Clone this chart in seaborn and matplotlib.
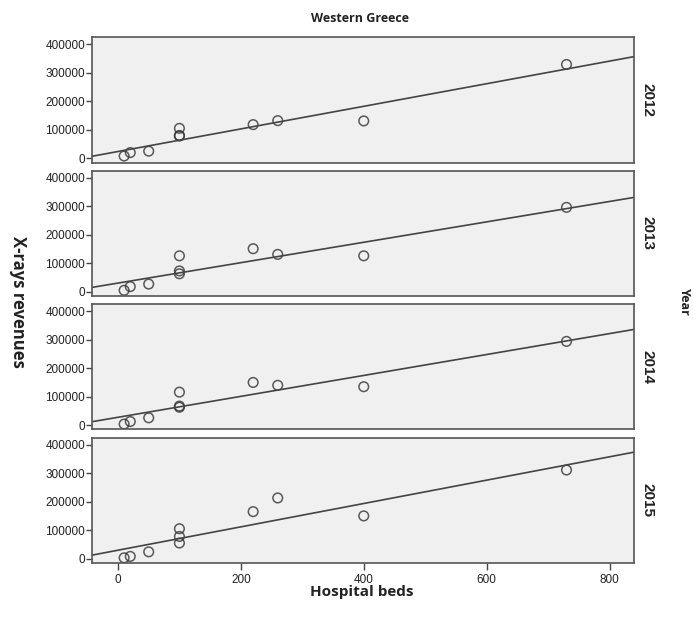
import matplotlib
matplotlib.use("Agg")
import matplotlib.pyplot as plt
import seaborn as sns
import pandas as pd
import numpy as np

beds = [10, 20, 50, 100, 100, 100, 220, 260, 400, 730]
years = ["2012", "2013", "2014", "2015"]
rev_2012 = [8000, 20000, 25000, 105000, 80000, 78000, 118000, 132000, 131000, 329000]
rev_2013 = [5000, 18000, 27000, 126000, 73000, 63000, 151000, 131000, 126000, 296000]
rev_2014 = [4000, 13000, 26000, 116000, 67000, 63000, 150000, 140000, 135000, 294000]
rev_2015 = [3000, 8000, 24000, 105000, 78000, 55000, 165000, 213000, 150000, 311000]
y_ticks = [0, 100000, 200000, 300000, 400000]
x_ticks = [0, 200, 400, 600, 800]

df = pd.DataFrame({
    "Hospital beds": beds * 4,
    "X-rays revenues": rev_2012 + rev_2013 + rev_2014 + rev_2015,
    "Year": sum([[y] * len(beds) for y in years], []),
})

sns.set_theme(style="white")
plt.rcParams["font.family"] = ["Liberation Sans", "DejaVu Sans"]

g = sns.lmplot(
    data=df, x="Hospital beds", y="X-rays revenues", row="Year",
    row_order=years, ci=None, truncate=False,
    height=1.5, aspect=4,
    scatter_kws=dict(facecolors="none", edgecolors="#333333", s=48, linewidths=1.1),
    line_kws=dict(color="#444444", lw=1.2),
    facet_kws=dict(xlim=(-42, 840), ylim=(-15000, 425000), sharex=True, sharey=True,
                   despine=False),
)
fig = g.figure
fig.set_size_inches(6.93, 6.29)
fig.subplots_adjust(left=0.133, right=0.915, top=0.941, bottom=0.105, hspace=0.064)

for i, ax in enumerate(g.axes.flat):
    ax.set_facecolor("#f0f0f0")
    for s in ax.spines.values():
        s.set_color("#555555")
        s.set_linewidth(1.2)
    ax.set_title("")
    ax.set_xlabel("")
    ax.set_ylabel("")
    ax.set_yticks(y_ticks)
    ax.set_yticklabels([str(t) for t in y_ticks], fontsize=8.5, color="#222222",
                       family=["Liberation Sans"])
    ax.tick_params(axis="y", left=True, length=4, width=1, color="#444444", pad=1)
    ax.set_xticks(x_ticks)
    if i == len(years) - 1:
        ax.set_xticklabels([str(t) for t in x_ticks], fontsize=8.5, color="#222222",
                           family=["Liberation Sans"])
        ax.tick_params(axis="x", bottom=True, length=5, width=1, color="#444444", pad=3)
    else:
        ax.tick_params(axis="x", bottom=False, labelbottom=False)
    ax.text(1.012, 0.5, years[i], transform=ax.transAxes, rotation=-90,
            ha="left", va="center", fontsize=11, fontweight="bold", color="#222222",
            family=["Liberation Sans"])

lab = dict(family=["Open Sans", "DejaVu Sans"], fontweight="bold", color="#222222",
           ha="center", va="center")
fig.text(0.52, 0.971, "Western Greece", fontsize=9, **lab)
fig.text(0.522, 0.059, "Hospital beds", fontsize=11, **lab)
fig.text(0.026, 0.52, "X-rays revenues", rotation=-90, fontsize=12, **lab)
fig.text(0.988, 0.52, "Year", rotation=-90, fontsize=9, **lab)

fig.savefig("out.png", dpi=100, facecolor="white")
